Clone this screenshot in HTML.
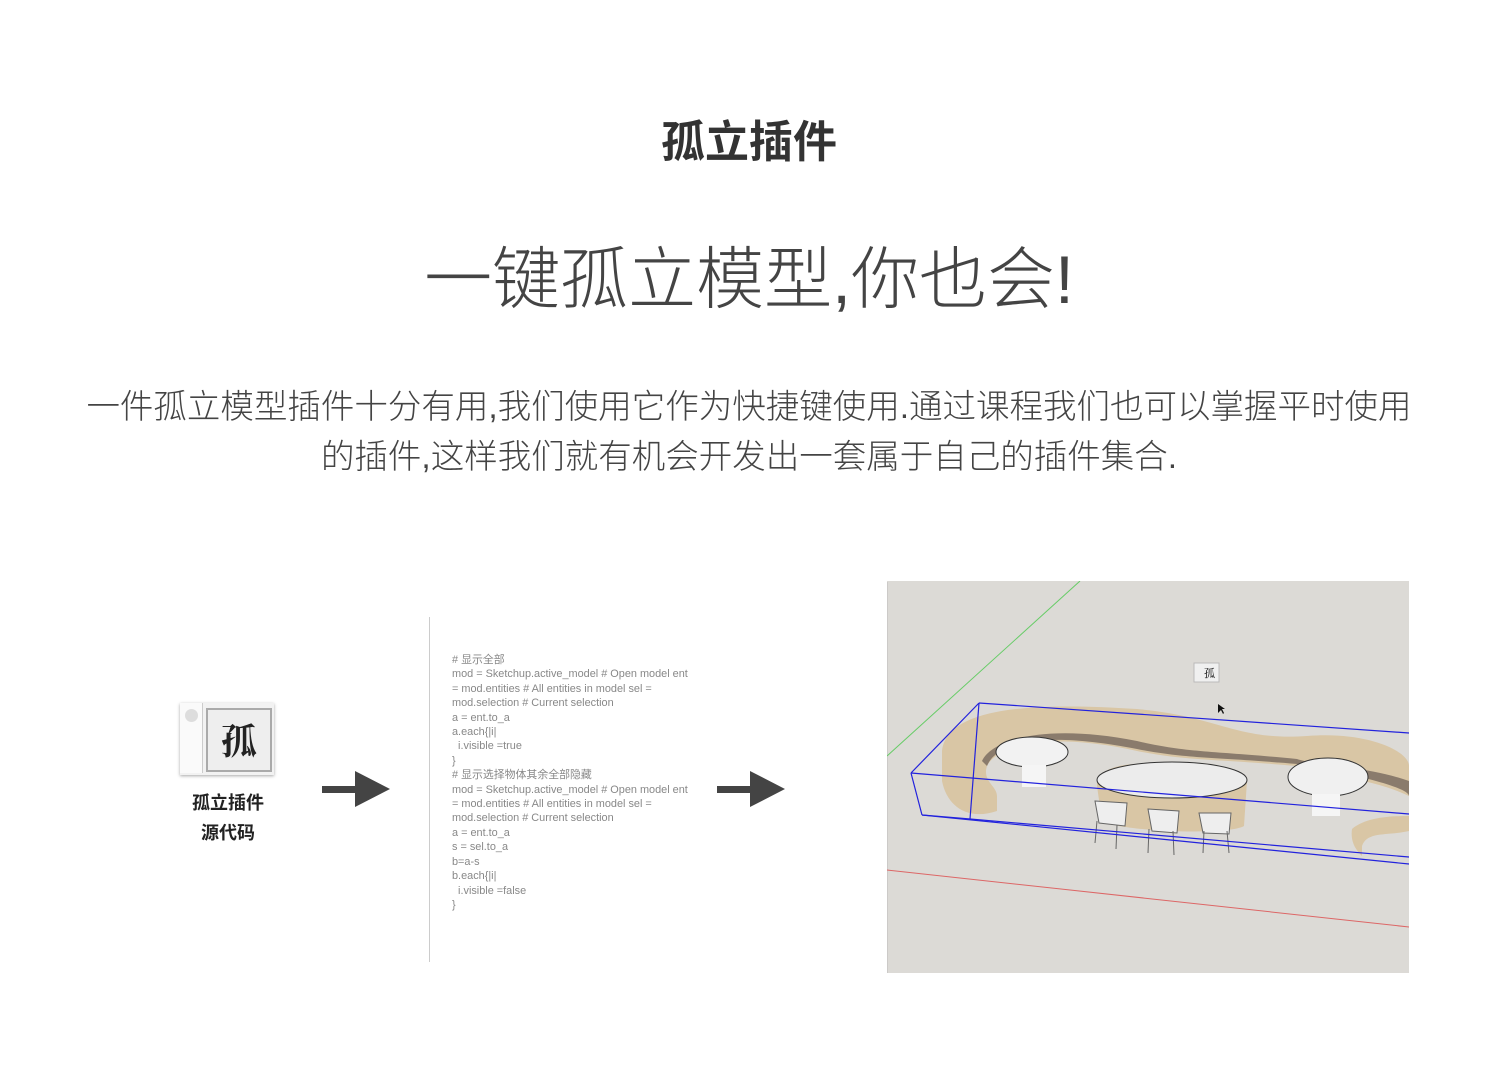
<!DOCTYPE html>
<html><head><meta charset="utf-8">
<style>
body{margin:0;width:1498px;height:1082px;background:#fff;position:relative;overflow:hidden;font-family:"Liberation Sans","Noto Sans CJK SC",sans-serif;}
.a{position:absolute;white-space:nowrap;}
.t1{left:0;width:1498px;top:113px;text-align:center;font-size:44px;font-weight:bold;color:#333;line-height:60px;}
.t2{left:0;width:1498px;top:238px;text-align:center;font-size:68px;font-weight:300;color:#444;line-height:84px;}
.p{left:0;width:1498px;top:383px;text-align:center;font-size:33.5px;font-weight:300;color:#444;line-height:50px;white-space:normal;}
.code{left:452px;top:653px;font-size:10.9px;line-height:14.4px;color:#888;white-space:pre;}
.lbl{left:160px;width:136px;text-align:center;top:788px;font-size:18px;font-weight:bold;color:#222;line-height:30px;}
</style></head><body>
<div class="a t1">孤立插件</div>
<div class="a t2">一键孤立模型,你也会!</div>
<div class="a p">一件孤立模型插件十分有用,我们使用它作为快捷键使用.通过课程我们也可以掌握平时使用<br>的插件,这样我们就有机会开发出一套属于自己的插件集合.</div>

<div class="a" style="left:180px;top:703px;width:94px;height:72px;background:#f2f2f2;box-shadow:0 1px 3px rgba(0,0,0,.35);"></div>
<div class="a" style="left:180px;top:703px;width:22px;height:70px;background:#fafafa;border-right:1px solid #ccc;"></div>
<div class="a" style="left:185px;top:709px;width:13px;height:13px;border-radius:50%;background:#ddd;"></div>
<div class="a" style="left:206px;top:708px;width:62px;height:60px;border:2px solid #aaa;background:#eee;font-size:36px;line-height:60px;text-align:center;color:#222;font-family:'Noto Serif CJK SC',serif;font-weight:bold;">孤</div>
<div class="a lbl">孤立插件<br>源代码</div>

<svg class="a" style="left:0;top:0" width="1498" height="1082">
<rect x="322" y="786" width="36" height="7" fill="#444"/><polygon points="355,771 390,789 355,807" fill="#444"/>
<rect x="717" y="786" width="36" height="7" fill="#444"/><polygon points="750,771 785,789 750,807" fill="#444"/>
<line x1="429.5" y1="617" x2="429.5" y2="962" stroke="#ccc"/>
</svg>

<div class="a code"># 显示全部
mod = Sketchup.active_model # Open model ent
= mod.entities # All entities in model sel =
mod.selection # Current selection
a = ent.to_a
a.each{|i|
  i.visible =true
}
# 显示选择物体其余全部隐藏
mod = Sketchup.active_model # Open model ent
= mod.entities # All entities in model sel =
mod.selection # Current selection
a = ent.to_a
s = sel.to_a
b=a-s
b.each{|i|
  i.visible =false
}</div>

<svg class="a" style="left:887px;top:581px" width="522" height="392" viewBox="0 0 522 392">
<rect width="522" height="392" fill="#dcdad6"/>
<line x1="0" y1="1" x2="0" y2="392" stroke="#bbb"/>
<line x1="0" y1="175" x2="193" y2="0" stroke="#6c6" stroke-width="1"/>
<line x1="0" y1="289" x2="522" y2="346" stroke="#d66" stroke-width="1"/>
<path d="M55,170 C60,130 130,120 250,128 C330,135 350,160 420,155 C480,150 522,170 522,185 L522,215 C480,195 430,195 410,185 C330,178 300,180 250,170 C160,150 110,165 100,185 C95,200 110,205 110,215 L110,230 C80,240 60,225 55,200 Z" fill="#d9c6a5"/>
<path d="M100,185 C110,160 160,150 250,168 C300,178 330,176 410,183 C450,190 522,205 522,215 L522,200 C480,185 430,185 410,178 C330,170 300,172 250,160 C160,142 105,158 95,180 Z" fill="#8a7b6c"/>
<path d="M465,248 C480,235 510,235 522,235 L522,250 C500,255 480,250 475,265 L475,275 C470,270 463,262 465,248Z" fill="#d9c6a5"/>
<ellipse cx="145" cy="171" rx="36" ry="15" fill="#f2f2f2" stroke="#333"/>
<rect x="135" y="184" width="24" height="22" fill="#f5f5f5"/>
<path d="M210,205 C210,182 250,180 290,185 C330,190 360,190 360,200 L357,245 C340,255 230,250 215,240 Z" fill="#d9c6a5"/>
<ellipse cx="285" cy="199" rx="75" ry="18" fill="#ececec" stroke="#333"/>
<ellipse cx="441" cy="196" rx="40" ry="19" fill="#f0f0f0" stroke="#333"/>
<rect x="425" y="213" width="28" height="22" fill="#f5f5f5"/>
<g fill="#eee" stroke="#666">
<path d="M208,220 L240,222 L238,245 L212,242 Z"/><path d="M261,228 L292,230 L290,252 L265,250 Z"/><path d="M312,232 L344,232 L342,253 L316,252 Z"/>
</g>
<g stroke="#666"><line x1="210" y1="240" x2="208" y2="262"/><line x1="230" y1="244" x2="229" y2="268"/><line x1="262" y1="248" x2="261" y2="272"/><line x1="286" y1="250" x2="287" y2="274"/><line x1="317" y1="250" x2="316" y2="272"/><line x1="340" y1="250" x2="342" y2="272"/></g>
<g fill="none" stroke="#2222dd" stroke-width="1.2">
<polyline points="92,122 522,152"/><polyline points="24,192 522,233"/><polyline points="35,234 522,283"/><polyline points="83,238 522,276"/>
<line x1="92" y1="122" x2="24" y2="192"/><line x1="24" y1="192" x2="35" y2="234"/><line x1="35" y1="234" x2="83" y2="238"/><line x1="92" y1="122" x2="83" y2="238"/>
</g>
<rect x="307" y="82" width="25" height="19" fill="#f0f0f0" stroke="#bbb"/>
<text x="317" y="96" font-size="11" font-family="Noto Serif CJK SC,serif">孤</text>
<polygon points="331,123 331,132 334,129 336,133 337,132 335,128 338,128" fill="#111"/>
</svg>
</body></html>
